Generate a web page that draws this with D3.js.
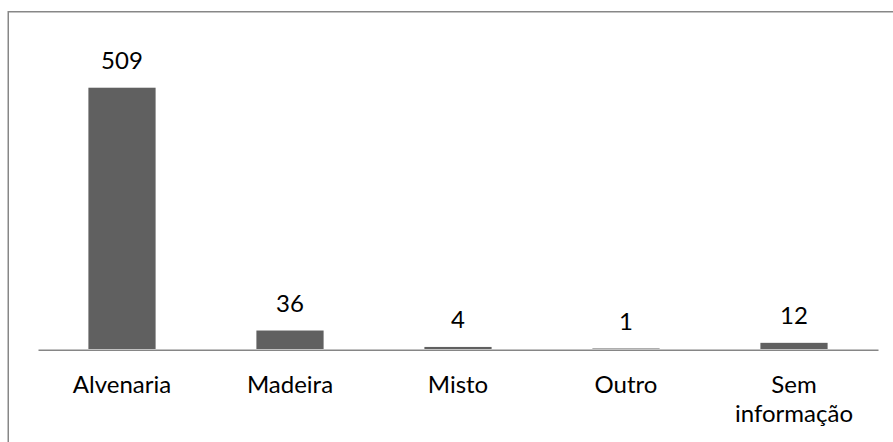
<!DOCTYPE html>
<html>
<head>
<meta charset="utf-8">
<script src="https://cdn.jsdelivr.net/npm/d3@7"></script>
<style>
  html, body { margin: 0; padding: 0; background: #fff; }
  svg { display: block; }
  text { font-family: Lato, "Open Sans", sans-serif; fill: #000; }
</style>
</head>
<body>
<svg id="chart" width="893" height="442"></svg>
<script>
// Tipo de construção dos domicílios
const categories = ["Alvenaria", "Madeira", "Misto", "Outro", "Sem informação"];
const values = [509, 36, 4, 1, 12];
const categoryLines = [["Alvenaria"], ["Madeira"], ["Misto"], ["Outro"], ["Sem", "informação"]];
const yDomain = [0, 600];

const svg = d3.select("#chart");
const W = 893, H = 442;
const plot = { left: 38, right: 878, top: 41, bottom: 349 };

// Chart frame (continues past the right and bottom edges)
svg.append("rect")
  .attr("x", 8.25).attr("y", 11.75)
  .attr("width", W + 20).attr("height", H + 20)
  .attr("fill", "none")
  .attr("stroke", "#878787")
  .attr("stroke-width", 1.5);

const x = d3.scaleBand()
  .domain(categories)
  .range([plot.left, plot.right])
  .paddingInner(0.6)
  .paddingOuter(0.3);

const y = d3.scaleLinear()
  .domain(yDomain)
  .range([plot.bottom, plot.top]);

// Bars
svg.append("g")
  .selectAll("rect")
  .data(categories)
  .join("rect")
  .attr("x", d => x(d))
  .attr("width", x.bandwidth())
  .attr("y", (d, i) => y(values[i]))
  .attr("height", (d, i) => y(0) - y(values[i]))
  .attr("fill", "#606060");

// Category axis line
const xAxis = d3.axisBottom(x).tickSize(0).tickFormat("");
const axisG = svg.append("g")
  .attr("transform", `translate(0,${plot.bottom + 0.75})`)
  .call(xAxis);
axisG.select(".domain")
  .attr("stroke", "#868686")
  .attr("stroke-width", 1.5);

// Category labels
const labelG = svg.append("g");
categories.forEach((c, i) => {
  const t = labelG.append("text")
    .attr("x", x(c) + x.bandwidth() / 2)
    .attr("y", 393)
    .attr("text-anchor", "middle")
    .attr("font-size", 24);
  categoryLines[i].forEach((line, j) => {
    t.append("tspan")
      .attr("x", x(c) + x.bandwidth() / 2)
      .attr("dy", j === 0 ? 0 : 29)
      .text(line);
  });
});

// Value labels
svg.append("g")
  .selectAll("text")
  .data(categories)
  .join("text")
  .attr("x", d => x(d) + x.bandwidth() / 2)
  .attr("y", (d, i) => y(values[i]) - 18.5)
  .attr("text-anchor", "middle")
  .attr("font-size", 24)
  .text((d, i) => values[i]);
</script>
</body>
</html>
